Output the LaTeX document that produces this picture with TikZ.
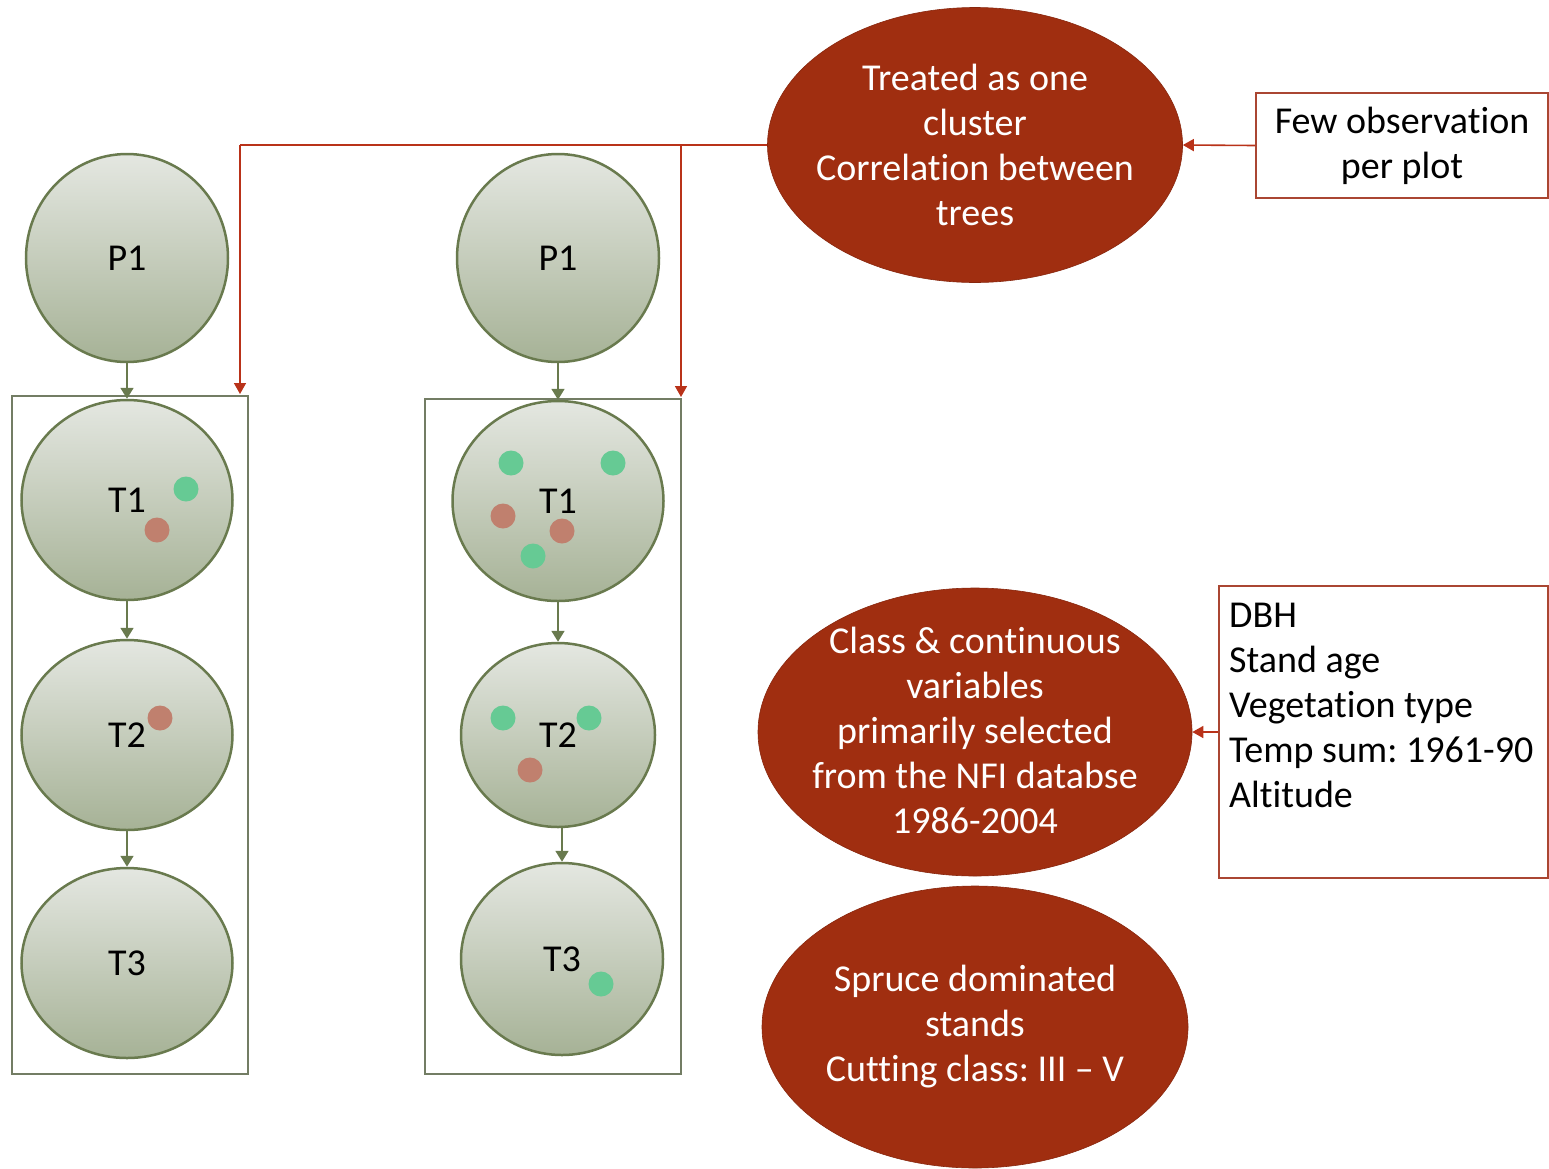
\documentclass[tikz,border=0pt]{standalone}
\usepackage{fontspec}
\setmainfont{Carlito}[Ligatures=NoCommon]
\usetikzlibrary{shapes.geometric,arrows.meta}
\definecolor{rust}{RGB}{160,46,16}
\definecolor{rustline}{RGB}{170,70,50}
\definecolor{olive}{RGB}{105,122,78}
\definecolor{boxgray}{RGB}{115,125,100}
\definecolor{topc}{RGB}{228,231,225}
\definecolor{botc}{RGB}{166,178,150}
\definecolor{dotg}{RGB}{102,202,148}
\definecolor{dotb}{RGB}{192,128,110}
\definecolor{redarrow}{RGB}{185,50,25}
\tikzset{
  treecirc/.style={ellipse, draw=olive, line width=2.5pt, top color=topc, bottom color=botc, inner sep=0pt, font=\fontsize{38}{45}\selectfont},
  rustell/.style={ellipse, fill=rust, draw=rust!85!black, line width=0.6pt, inner sep=0pt},
  rusttext/.style={text=white, align=center, inner sep=0pt, font=\fontsize{38}{45}\selectfont},
  grarrow/.style={draw=olive, line width=1.8pt, -{Triangle[width=13pt,length=11pt]}},
  redarr/.style={draw=redarrow, line width=1.6pt, -{Triangle[width=12pt,length=11pt]}},
  clusterbox/.style={draw=boxgray, line width=2.2pt},
  infobox/.style={rectangle, draw=rustline, line width=2.2pt, inner sep=0pt},
  gdot/.style={circle, fill=dotg, inner sep=0pt, minimum size=25pt},
  bdot/.style={circle, fill=dotb, inner sep=0pt, minimum size=25pt},
}
\begin{document}
\frenchspacing
\begin{tikzpicture}[x=1pt,y=-1pt]
\useasboundingbox (0,0) rectangle (1549,1168);
% cluster boxes
\draw[clusterbox] (12,396) rectangle (248,1074);
\draw[clusterbox] (425,399) rectangle (681,1074);
% left column
\node[treecirc, minimum width=202pt, minimum height=208pt] (lp1) at (127,258) {P1};
\node[treecirc, minimum width=211pt, minimum height=200pt] (lt1) at (127,500) {T1};
\node[treecirc, minimum width=211pt, minimum height=190pt] (lt2) at (127,735) {T2};
\node[treecirc, minimum width=211pt, minimum height=190pt] (lt3) at (127,963) {T3};
% right column
\node[treecirc, minimum width=202pt, minimum height=208pt] (rp1) at (558,258) {P1};
\node[treecirc, minimum width=211pt, minimum height=200pt] (rt1) at (558,501) {T1};
\node[treecirc, minimum width=194pt, minimum height=184pt] (rt2) at (558,735) {T2};
\node[treecirc, minimum width=202pt, minimum height=192pt] (rt3) at (562,959) {T3};
% dots
\node[gdot] (d1) at (186,489) {};
\node[bdot] (d2) at (157,530) {};
\node[bdot] (d3) at (160,718) {};
\node[gdot] (d4) at (511,463) {};
\node[gdot] (d5) at (613,463) {};
\node[bdot] (d6) at (503,516) {};
\node[bdot] (d7) at (562,531) {};
\node[gdot] (d8) at (533,556) {};
\node[gdot] (d9) at (503,718) {};
\node[gdot] (d10) at (589,718) {};
\node[bdot] (d11) at (530,770) {};
\node[gdot] (d12) at (601,984) {};
% green arrows
\draw[grarrow] (lp1) -- (lt1);
\draw[grarrow] (lt1) -- (lt2);
\draw[grarrow] (lt2) -- (lt3);
\draw[grarrow] (rp1) -- (rt1);
\draw[grarrow] (rt1) -- (rt2);
\draw[grarrow] (rt2.south -| rt3.north) -- (rt3);
% rust ellipses
\node[rustell, minimum width=415pt, minimum height=275pt] (e1) at (975,145) {};
\node[rusttext] (e1t) at (e1.center) {Treated as one\\cluster\\Correlation between\\trees};
\node[rustell, minimum width=434pt, minimum height=288pt] (e2) at (975,732) {};
\node[rusttext] (e2t) at (975,730) {Class \& continuous\\variables\\primarily selected\\from the NFI databse\\1986-2004};
\node[rustell, minimum width=426pt, minimum height=282pt] (e3) at (975,1027) {};
\node[rusttext] (e3t) at (e3.center) {Spruce dominated\\stands\\Cutting class: III -- V};
% info boxes
\node[infobox, minimum width=292pt, minimum height=105pt, align=center, font=\fontsize{38}{45}\selectfont] (few) at (1402,145.5) {Few observation\\per plot};
\node[infobox, minimum width=329pt, minimum height=292pt] (vars) at (1383.5,732) {};
\node[anchor=north west, align=left, inner sep=0pt, font=\fontsize{38}{45}\selectfont] (varstext) at (1229,603) {DBH\\Stand age\\Vegetation type\\Temp sum: 1961-90\\Altitude};
% red connectors
\coordinate (lc) at (240,145);
\coordinate (rc) at (681,145);
\coordinate (lbt) at (240,394);
\coordinate (rbt) at (681,397);
\draw[draw=redarrow, line width=1.6pt] (e1.west) -- (lc);
\draw[redarr] (lc) -- (lbt);
\draw[redarr] (rc) -- (rbt);
\draw[redarr] (few.west) -- (e1.east);
\draw[redarr] (vars.west) -- (e2.east);
\end{tikzpicture}
\end{document}
